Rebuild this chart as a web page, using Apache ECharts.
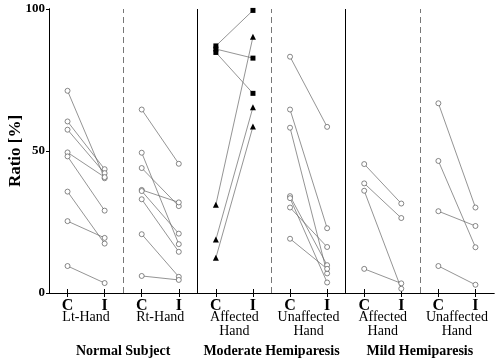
<!DOCTYPE html>
<html>
<head>
<meta charset="utf-8">
<script src="https://cdn.jsdelivr.net/npm/echarts@6/dist/echarts.min.js"></script>
<style>html,body{margin:0;padding:0;background:#fff}#main{width:500px;height:364px}</style>
</head>
<body>
<div id="main"></div>
<script>
// panel names under the C / I ticks, group names at the bottom
var panelNames = ['Lt-Hand', 'Rt-Hand', 'Affected\nHand', 'Unaffected\nHand', 'Affected\nHand', 'Unaffected\nHand'];
var groupNames = ['Normal Subject', 'Moderate Hemiparesis', 'Mild Hemiparesis'];
var tickNames = ['C', 'I'];

// Normal subject
var ltHandC = [71.2, 60.4, 57.5, 49.5, 48.1, 35.7, 25.3, 9.5];
var ltHandI = [40.4, 43.6, 42.2, 40.8, 29.0, 17.4, 19.4, 3.5];
var rtHandC = [64.6, 49.4, 44.0, 36.3, 35.9, 33.0, 20.7, 6.0];
var rtHandI = [45.5, 17.2, 30.6, 31.9, 20.9, 14.5, 5.7, 4.6];
// Moderate hemiparesis
var modAffSqC = [87.0, 85.9, 84.7];
var modAffSqI = [99.5, 82.7, 70.3];
var modAffTriC = [31.1, 18.8, 12.4];
var modAffTriI = [90.2, 65.4, 58.6];
var modUnaffC = [83.2, 64.6, 58.2, 34.1, 33.4, 30.1, 19.1];
var modUnaffI = [58.5, 22.8, 6.9, 9.8, 3.7, 16.2, 8.5];
// Mild hemiparesis
var mildAffC = [45.4, 38.6, 36.0, 8.5];
var mildAffI = [31.5, 26.4, 1.5, 3.4];
var mildUnaffC = [66.8, 46.5, 28.8, 9.5];
var mildUnaffI = [30.1, 16.1, 23.6, 2.9];

var chart = echarts.init(document.getElementById('main'));
var serif = 'Liberation Serif';

// panel index, C list, I list, symbol
var sets = [
    [0, ltHandC, ltHandI, 'circle'],
    [1, rtHandC, rtHandI, 'circle'],
    [2, modAffSqC, modAffSqI, 'rect'],
    [2, modAffTriC, modAffTriI, 'triangle'],
    [3, modUnaffC, modUnaffI, 'circle'],
    [4, mildAffC, mildAffI, 'circle'],
    [5, mildUnaffC, mildUnaffI, 'circle']
];

var series = [];
sets.forEach(function (s) {
    var xc = s[0] * 4 + 1, xi = s[0] * 4 + 3;
    var hollow = s[3] === 'circle';
    for (var k = 0; k < s[1].length; k++) {
        series.push({
            type: 'line',
            data: [[xc, s[1][k]], [xi, s[2][k]]],
            symbol: s[3],
            symbolSize: s[3] === 'triangle' ? 6 : 5,
            showAllSymbol: true,
            lineStyle: { color: '#666', width: 0.7 },
            itemStyle: hollow
                ? { color: '#fff', borderColor: '#555', borderWidth: 0.7 }
                : { color: '#000', borderWidth: 0 },
            silent: true
        });
    }
});

// panel separators
series.push({
    type: 'line',
    data: [],
    markLine: {
        symbol: 'none',
        silent: true,
        label: { show: false },
        data: [
            { xAxis: 4, lineStyle: { type: [6, 4], color: '#777', width: 1 } },
            { xAxis: 8, lineStyle: { type: 'solid', color: '#000', width: 1 } },
            { xAxis: 12, lineStyle: { type: [6, 4], color: '#777', width: 1 } },
            { xAxis: 16, lineStyle: { type: 'solid', color: '#000', width: 1 } },
            { xAxis: 20, lineStyle: { type: [6, 4], color: '#777', width: 1 } }
        ]
    }
});

var ciTicks = [], panelTicks = [], groupTicks = [];
for (var p = 0; p < 6; p++) {
    ciTicks.push(p * 4 + 1, p * 4 + 3);
    panelTicks.push(p * 4 + 2);
}
for (var g = 0; g < 3; g++) groupTicks.push(g * 8 + 4);

var option = {
    animation: false,
    backgroundColor: '#fff',
    grid: { left: 49, right: 6, top: 9, bottom: 71, outerBoundsMode: 'none' },
    xAxis: [
        {
            type: 'value', min: 0, max: 24, position: 'bottom',
            axisLine: { lineStyle: { color: '#000', width: 1 } },
            axisTick: { inside: true, length: 4, customValues: ciTicks, lineStyle: { color: '#000' } },
            axisLabel: {
                customValues: ciTicks, margin: 5,
                fontFamily: serif, fontWeight: 'bold', fontSize: 16, color: '#000',
                formatter: function (v) { return tickNames[(v - 1) % 4 === 0 ? 0 : 1]; }
            },
            splitLine: { show: false }
        },
        {
            type: 'value', min: 0, max: 24, position: 'top',
            axisLine: { lineStyle: { color: '#000', width: 1 } },
            axisTick: { inside: true, length: 4, customValues: ciTicks, lineStyle: { color: '#000' } },
            axisLabel: { show: false },
            splitLine: { show: false }
        },
        {
            type: 'value', min: 0, max: 24, position: 'bottom', offset: 17,
            axisLine: { show: false }, axisTick: { show: false }, splitLine: { show: false },
            axisLabel: {
                customValues: panelTicks, margin: 0,
                fontFamily: serif, fontSize: 14, lineHeight: 14, color: '#000',
                formatter: function (v) { return panelNames[(v - 2) / 4]; }
            }
        },
        {
            type: 'value', min: 0, max: 24, position: 'bottom', offset: 51,
            axisLine: { show: false }, axisTick: { show: false }, splitLine: { show: false },
            axisLabel: {
                customValues: groupTicks, margin: 0,
                fontFamily: serif, fontWeight: 'bold', fontSize: 14, color: '#000',
                formatter: function (v) { return groupNames[(v - 4) / 8]; }
            }
        }
    ],
    yAxis: [
        {
            type: 'value', min: 0, max: 100, interval: 50, position: 'left',
            name: 'Ratio [%]', nameLocation: 'middle', nameGap: 25, nameMoveOverlap: false,
            nameTextStyle: { fontFamily: serif, fontWeight: 'bold', fontSize: 17, color: '#000' },
            axisLine: { show: true, lineStyle: { color: '#000', width: 1 } },
            axisTick: { show: true, inside: false, length: 3, lineStyle: { color: '#000' } },
            axisLabel: { margin: 4, fontFamily: serif, fontWeight: 'bold', fontSize: 13, color: '#000' },
            splitLine: { show: false }
        },
        {
            type: 'value', min: 0, max: 100, interval: 50, position: 'right',
            axisLine: { show: true, lineStyle: { color: '#000', width: 1 } },
            axisTick: { show: true, inside: true, length: 3, lineStyle: { color: '#000' } },
            axisLabel: { show: false },
            splitLine: { show: false }
        }
    ],
    series: series
};

chart.setOption(option);
</script>
</body>
</html>
